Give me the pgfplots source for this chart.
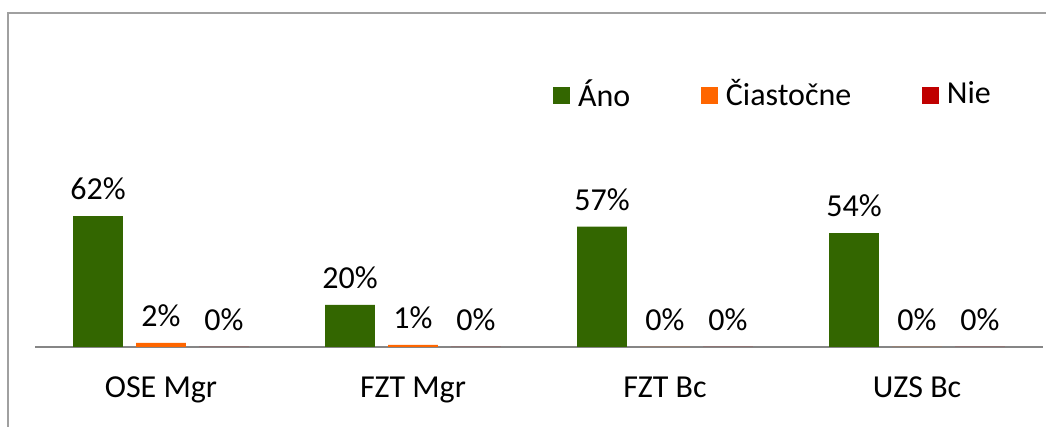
\documentclass[border=0pt]{standalone}
\usepackage{pgfplots}
\pgfplotsset{compat=1.18}
\usepackage{fontspec}
\setmainfont{Carlito}

\definecolor{ano}{RGB}{51,102,0}
\definecolor{ciast}{RGB}{255,102,0}
\definecolor{nie}{RGB}{192,0,0}
\definecolor{frame}{RGB}{160,160,160}
\definecolor{axisgray}{RGB}{134,134,134}

\begin{document}
\fontsize{24pt}{29pt}\selectfont
\begin{tikzpicture}
\path[use as bounding box] (0,0) rectangle (784.5pt,320.25pt);
\clip (0,0) rectangle (784.5pt,320.25pt);
% frame of the chart area (only top and left edges visible)
\draw[frame, line width=0.8pt] (6pt,-20pt) rectangle (810pt,310.5pt);

\begin{axis}[
    at={(26.25pt,60pt)}, anchor=south west,
    scale only axis,
    width=756pt, height=158.25pt,
    ybar, bar width=0.198,
    xmin=-0.5, xmax=3.5,
    ymin=0, ymax=100,
    axis y line=none,
    axis x line*=bottom,
    x axis line style={-, draw=axisgray, line width=1.4pt},
    xtick={0,1,2,3},
    xticklabels={OSE Mgr, FZT Mgr, FZT Bc, UZS Bc},
    major tick length=0pt,
    xticklabel style={inner sep=0pt, yshift=-22pt},
    clip=false,
    nodes near coords={\pgfmathprintnumber[fixed,precision=0,assume math mode=true]{\pgfplotspointmeta}\%},
    nodes near coords style={anchor=south, inner sep=0pt, yshift=12pt, text=black},
    legend columns=3,
    legend style={
        at={(0.5139,1.194)}, anchor=west,
        draw=none, fill=none, inner sep=0pt, outer sep=0pt,
        nodes={inner xsep=0pt},
        /tikz/every odd column/.append style={column sep=6pt},
        /tikz/every even column/.append style={column sep=53pt},
    },
]
\addplot[fill=ano, draw=none, bar shift=-0.25,
    legend image code/.code={\fill[ano] (0pt,-6.4pt) rectangle (12.75pt,6.4pt);}]
    coordinates {(0,62) (1,20) (2,57) (3,54)};
\addplot[fill=ciast, draw=none, bar shift=0,
    legend image code/.code={\fill[ciast] (0pt,-6.4pt) rectangle (12.75pt,6.4pt);}]
    coordinates {(0,2) (1,1) (2,0) (3,0)};
\addplot[fill=nie, draw=none, bar shift=0.25,
    legend image code/.code={\fill[nie] (0pt,-6.4pt) rectangle (12.75pt,6.4pt);}]
    coordinates {(0,0) (1,0) (2,0) (3,0)};
\legend{Áno, Čiastočne, Nie}
\end{axis}
\end{tikzpicture}
\end{document}
